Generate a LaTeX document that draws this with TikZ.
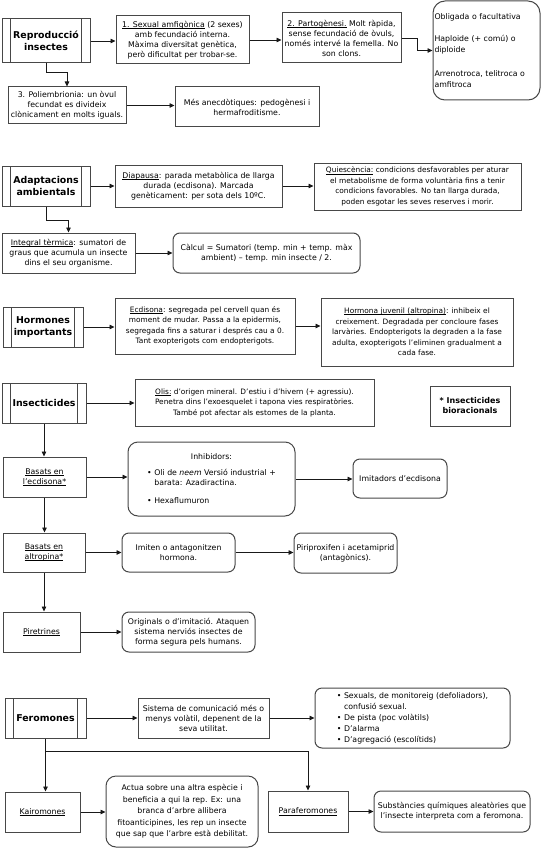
\documentclass[tikz,border=0pt]{standalone}
\usepackage{fontspec}
\setmainfont{DejaVu Sans}
\usetikzlibrary{arrows.meta}
\newcommand\bodyf{\fontsize{7.8}{10}\selectfont}
\newcommand\smallf{\fontsize{7.4}{10.5}\selectfont}
\newcommand\titf{\fontsize{9.4}{12.5}\selectfont\bfseries}
\newcommand\biof{\fontsize{8}{10}\selectfont\bfseries}
\newcommand\ul[1]{\leavevmode\setbox0=\hbox{#1}\rlap{\rule[-1.2pt]{\wd0}{0.5pt}}\box0\relax}
\tikzset{
  box/.style={draw=black!72, line width=1pt, inner sep=1pt, align=center, font=\bodyf, fill=white},
  rbox/.style={box, rounded corners=7pt},
  tbox/.style={box, font=\titf, path picture={
     \draw[black!72, line width=1pt] ([xshift=8.5pt]path picture bounding box.north west) -- ([xshift=8.5pt]path picture bounding box.south west);
     \draw[black!72, line width=1pt] ([xshift=-8.5pt]path picture bounding box.north east) -- ([xshift=-8.5pt]path picture bounding box.south east);}},
  arr/.style={-{Triangle[length=5pt,width=4.5pt]}, line width=0.8pt, draw=black!90}
}
\begin{document}
\begin{tikzpicture}[x=1pt,y=-1pt]
\useasboundingbox (0,0) rectangle (541,848);
% ---------- Reproduccio
\node[tbox, minimum width=88pt, minimum height=44pt] (repro) at (46,41) {Reproducció\\insectes};
\node[box, minimum width=133pt, minimum height=48pt] (s1) at (182.5,40) {\ul{1. Sexual amfigònica} (2 sexes)\\amb fecundació interna.\\Màxima diversitat genètica,\\però dificultat per trobar-se.};
\node[box, minimum width=119pt, minimum height=50pt] (s2) at (341.5,38) {\ul{2. Partogènesi.} Molt ràpida,\\sense fecundació de òvuls,\\només intervé la femella. No\\son clons.};
\node[box, rounded corners=12pt, minimum width=107pt, minimum height=99pt, text width=104pt, align=left, font=\fontsize{7.8}{11}\selectfont] (s3) at (486.5,50.5) {Obligada o facultativa\\[11pt]Haploide (+ comú) o\\diploide\\[13pt]Arrenotroca, telitroca o\\amfitroca};
\node[box, minimum width=118pt, minimum height=37pt] (poly) at (67,105.5) {3. Poliembrionia: un òvul\\fecundat es divideix\\clònicament en molts iguals.};
\node[box, minimum width=144pt, minimum height=40pt] (mes) at (247,107) {Més anecdòtiques: pedogènesi i\\hermafroditisme.};
\draw[arr] (repro.east) -- (repro.east -| s1.west);
\draw[arr] (s1.east) -- (s1.east -| s2.west);
\draw[arr] (s2.east) -- ++(16,0) |- (s3.west);
\draw[arr] (repro.south) -- ++(0,9) -| (poly.north);
\draw[arr] (poly.east) -- (poly.east -| mes.west);
% ---------- Adaptacions
\node[tbox, minimum width=88pt, minimum height=40pt] (adapt) at (46,186) {Adaptacions\\ambientals};
\node[box, minimum width=167pt, minimum height=42pt] (diap) at (198.5,186) {\ul{Diapausa}: parada metabòlica de llarga\\durada (ecdisona). Marcada\\genèticament: per sota dels 10ºC.};
\node[box, minimum width=207pt, minimum height=47pt, font=\smallf] (quies) at (417.5,186.5) {\ul{Quiescència:} condicions desfavorables per aturar\\el metabolisme de forma voluntària fins a tenir\\condicions favorables. No tan llarga durada,\\poden esgotar les seves reserves i morir.};
\node[box, minimum width=133pt, minimum height=40pt] (integ) at (68.5,253) {\ul{Integral tèrmica}: sumatori de\\graus que acumula un insecte\\dins el seu organisme.};
\node[rbox, minimum width=187pt, minimum height=40pt] (calc) at (266.5,253) {Càlcul = Sumatori (temp. min + temp. màx\\ambient) -- temp. min insecte / 2.};
\draw[arr] (adapt.east) -- (adapt.east -| diap.west);
\draw[arr] (diap.east) -- (diap.east -| quies.west);
\draw[arr] (adapt.south) -- ++(0,14) -| (integ.north);
\draw[arr] (integ.east) -- (integ.east -| calc.west);
% ---------- Hormones
\node[tbox, minimum width=80pt, minimum height=40pt] (horm) at (43,327) {Hormones\\importants};
\node[box, minimum width=180pt, minimum height=56pt, font=\smallf] (ecd) at (205,326) {\ul{Ecdisona}: segregada pel cervell quan és\\moment de mudar. Passa a la epidermis,\\segregada fins a saturar i després cau a 0.\\Tant exopterigots com endopterigots.};
\node[box, minimum width=192pt, minimum height=68pt, font=\smallf] (juv) at (417,332) {\ul{Hormona juvenil (altropina)}: inhibeix el\\creixement. Degradada per concloure fases\\larvàries. Endopterigots la degraden a la fase\\adulta, exopterigots l'eliminen gradualment a\\cada fase.};
\draw[arr] (horm.east) -- (horm.east -| ecd.west);
\draw[arr] (ecd.east) -- (ecd.east -| juv.west);
% ---------- Insecticides
\node[tbox, minimum width=84pt, minimum height=40pt] (insect) at (44,403) {Insecticides};
\node[box, minimum width=239pt, minimum height=47pt, font=\smallf] (olis) at (254.5,402.5) {\ul{Olis:} d'origen mineral. D'estiu i d'hivern (+ agressiu).\\Penetra dins l'exoesquelet i tapona vies respiratòries.\\També pot afectar als estomes de la planta.};
\node[box, minimum width=80pt, minimum height=40pt, font=\biof] (bio) at (470,406) {* Insecticides\\bioracionals};
\node[box, minimum width=83pt, minimum height=40pt] (bec) at (44.5,477) {\ul{Basats en}\\\ul{l'ecdisona*}};
\node[rbox, rounded corners=10pt, minimum width=167pt, minimum height=74pt] (inh) at (211.5,479) {\begin{tabular}{@{}l@{}}\multicolumn{1}{c}{Inhibidors:}\\[6pt]• Oli de \textit{neem} Versió industrial +\\\hphantom{• }barata: Azadiractina.\\[8pt]• Hexaflumuron\end{tabular}};
\node[rbox, minimum width=94pt, minimum height=39pt] (imit) at (400,478.5) {Imitadors d'ecdisona};
\node[box, minimum width=82pt, minimum height=39pt] (balt) at (44,552.5) {\ul{Basats en}\\\ul{altropina*}};
\node[rbox, minimum width=113pt, minimum height=39pt] (imiten) at (178.5,552.5) {Imiten o antagonitzen\\hormona.};
\node[rbox, minimum width=103pt, minimum height=40pt] (piri) at (345.5,553) {Piriproxifen i acetamiprid\\(antagònics).};
\node[box, minimum width=77pt, minimum height=40pt] (pire) at (41.5,632) {\ul{Piretrines}};
\node[rbox, minimum width=133pt, minimum height=40pt] (orig) at (188.5,632) {Originals o d'imitació. Ataquen\\sistema nerviós insectes de\\forma segura pels humans.};
\draw[arr] (insect.east) -- (insect.east -| olis.west);
\draw[arr] (insect.south) -- (insect.south |- bec.north);
\draw[arr] (bec.east) -- (bec.east -| inh.west);
\draw[arr] (inh.east) -- (inh.east -| imit.west);
\draw[arr] (bec.south) -- (bec.south |- balt.north);
\draw[arr] (balt.east) -- (balt.east -| imiten.west);
\draw[arr] (imiten.east) -- (imiten.east -| piri.west);
\draw[arr] (balt.south) -- (balt.south |- pire.north);
\draw[arr] (pire.east) -- (pire.east -| orig.west);
% ---------- Feromones
\node[tbox, minimum width=81pt, minimum height=40pt] (fer) at (45.5,718) {Feromones};
\node[box, minimum width=131pt, minimum height=40pt] (sist) at (203.5,718) {Sistema de comunicació més o\\menys volàtil, depenent de la\\seva utilitat.};
\node[rbox, minimum width=195pt, minimum height=60pt, font=\fontsize{7.8}{11}\selectfont] (bul) at (412.5,718) {\begin{tabular}{@{}l@{}}• Sexuals, de monitoreig (defoliadors),\\\hphantom{• }confusió sexual.\\• De pista (poc volàtils)\\• D'alarma\\• D'agregació (escolítids)\end{tabular}};
\node[box, minimum width=75pt, minimum height=40pt] (kai) at (42.5,812) {\ul{Kairomones}};
\node[rbox, rounded corners=10pt, minimum width=152pt, minimum height=71pt, font=\fontsize{7.8}{11.5}\selectfont] (actua) at (182,811.5) {Actua sobre una altra espècie i\\beneficia a qui la rep. Ex: una\\branca d'arbre allibera\\fitoanticipines, les rep un insecte\\que sap que l'arbre està debilitat.};
\node[box, minimum width=80pt, minimum height=41pt] (para) at (308,811.5) {\ul{Paraferomones}};
\node[rbox, minimum width=156pt, minimum height=41pt] (subst) at (452,811.5) {Substàncies químiques aleatòries que\\l'insecte interpreta com a feromona.};
\coordinate (fj) at ([yshift=-13pt]fer.south);
\draw[arr] (fer.east) -- (fer.east -| sist.west);
\draw[arr] (sist.east) -- (sist.east -| bul.west);
\draw[arr] (fer.south) -- (fer.south |- kai.north);
\draw[arr] (fj) -| (para.north);
\draw[arr] (kai.east) -- (kai.east -| actua.west);
\draw[arr] (para.east) -- (para.east -| subst.west);
\end{tikzpicture}
\end{document}
